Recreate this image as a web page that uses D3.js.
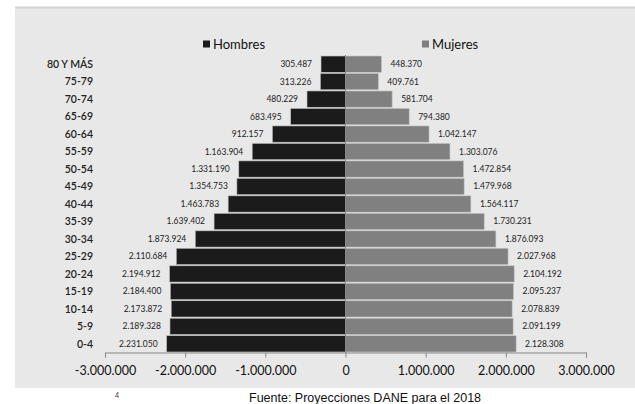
<!DOCTYPE html>
<html>
<head>
<meta charset="utf-8">
<script src="https://cdn.jsdelivr.net/npm/d3@7"></script>
<style>
body { margin: 0; background: #fff; }
svg { display: block; }
</style>
</head>
<body>
<script>
var ages = ["80 Y MÁS", "75-79", "70-74", "65-69", "60-64", "55-59", "50-54", "45-49",
    "40-44", "35-39", "30-34", "25-29", "20-24", "15-19", "10-14", "5-9", "0-4"];
var hombres = [305487, 313226, 480229, 683495, 912157, 1163904, 1331190, 1354753,
    1463783, 1639402, 1873924, 2110684, 2194912, 2184400, 2173872, 2189328, 2231050];
var mujeres = [448370, 409761, 581704, 794380, 1042147, 1303076, 1472854, 1479968,
    1564117, 1730231, 1876093, 2027968, 2104192, 2095237, 2078839, 2091199, 2128308];
var ticks = [-3000000, -2000000, -1000000, 0, 1000000, 2000000, 3000000];

var width = 635, height = 404;
var font = "Lato, 'Open Sans', sans-serif";

var es = d3.formatLocale({decimal: ",", thousands: ".", grouping: [3], currency: ["$", ""], minus: "-"});
var fmt = es.format(",d");

var svg = d3.select("body").append("svg").attr("width", width).attr("height", height);

// grey panel
svg.append("rect").attr("x", 15).attr("y", 7).attr("width", width - 15).attr("height", 381)
    .attr("fill", "#e8e8e8");
svg.append("line").attr("x1", 15).attr("x2", width).attr("y1", 7.5).attr("y2", 7.5)
    .attr("stroke", "#d2d2d2").attr("stroke-width", 2);

var x = d3.scaleLinear().domain([-3000000, 3000000]).range([105, 586]);
var y = d3.scaleBand().domain(ages).range([55.5, 352.5]).paddingInner(0.07).paddingOuter(0.03);

// bars
svg.selectAll("rect.h").data(hombres).enter().append("rect")
    .attr("class", "h")
    .attr("x", function(d) { return x(-d); })
    .attr("y", function(d, i) { return y(ages[i]); })
    .attr("width", function(d) { return x(0) - x(-d); })
    .attr("height", y.bandwidth())
    .attr("fill", "#1b1b1b")
    .attr("stroke", "#bdbdbd").attr("stroke-width", 0.6);

svg.selectAll("rect.m").data(mujeres).enter().append("rect")
    .attr("class", "m")
    .attr("x", x(0))
    .attr("y", function(d, i) { return y(ages[i]); })
    .attr("width", function(d) { return x(d) - x(0); })
    .attr("height", y.bandwidth())
    .attr("fill", "#808080")
    .attr("stroke", "#c4c4c4").attr("stroke-width", 0.6);

// value labels
svg.selectAll("text.hv").data(hombres).enter().append("text")
    .attr("class", "hv")
    .attr("x", function(d) { return x(-d) - 9; })
    .attr("y", function(d, i) { return y(ages[i]) + y.bandwidth() / 2; })
    .attr("dy", "0.35em")
    .attr("text-anchor", "end")
    .attr("font-family", font).attr("font-size", 8.5).attr("fill", "#222")
    .text(fmt);

svg.selectAll("text.mv").data(mujeres).enter().append("text")
    .attr("class", "mv")
    .attr("x", function(d) { return x(d) + 9; })
    .attr("y", function(d, i) { return y(ages[i]) + y.bandwidth() / 2; })
    .attr("dy", "0.35em")
    .attr("font-family", font).attr("font-size", 8.5).attr("fill", "#222")
    .text(fmt);

// age labels
svg.selectAll("text.age").data(ages).enter().append("text")
    .attr("class", "age")
    .attr("x", 93)
    .attr("y", function(d) { return y(d) + y.bandwidth() / 2; })
    .attr("dy", "0.35em")
    .attr("text-anchor", "end")
    .attr("font-family", font).attr("font-size", 10.5).attr("font-weight", 600).attr("fill", "#222")
    .text(function(d) { return d; });

// center line
svg.append("line").attr("x1", x(0)).attr("x2", x(0)).attr("y1", 55).attr("y2", 353)
    .attr("stroke", "#888").attr("stroke-width", 1);

// x axis
var axis = svg.append("g").attr("transform", "translate(0,352.5)")
    .call(d3.axisBottom(x).tickValues(ticks).tickFormat(fmt).tickSize(5).tickSizeOuter(5));
axis.select(".domain").attr("stroke", "#888");
axis.selectAll(".tick line").attr("stroke", "#888");
axis.selectAll(".tick text").attr("font-family", font).attr("font-size", 12.5)
    .attr("fill", "#111").attr("dy", "1.15em");

// legend
var legend = [{label: "Hombres", color: "#1b1b1b", x: 203}, {label: "Mujeres", color: "#808080", x: 422}];
var lg = svg.selectAll("g.lg").data(legend).enter().append("g")
    .attr("transform", function(d) { return "translate(" + d.x + ",44)"; });
lg.append("rect").attr("x", 0).attr("y", -3.5).attr("width", 7).attr("height", 7)
    .attr("fill", function(d) { return d.color; });
lg.append("text").attr("x", 10).attr("dy", "0.35em")
    .attr("font-family", font).attr("font-size", 13).attr("fill", "#111")
    .text(function(d) { return d.label; });

// footer
svg.append("text").attr("x", 117).attr("y", 398).attr("text-anchor", "middle")
    .attr("font-family", font).attr("font-size", 7).attr("fill", "#333").text("4");
svg.append("text").attr("x", 249).attr("y", 402)
    .attr("font-family", "'Liberation Sans', Arial, sans-serif").attr("font-size", 12.5).attr("fill", "#111")
    .text("Fuente: Proyecciones DANE para el 2018");
</script>
</body>
</html>
